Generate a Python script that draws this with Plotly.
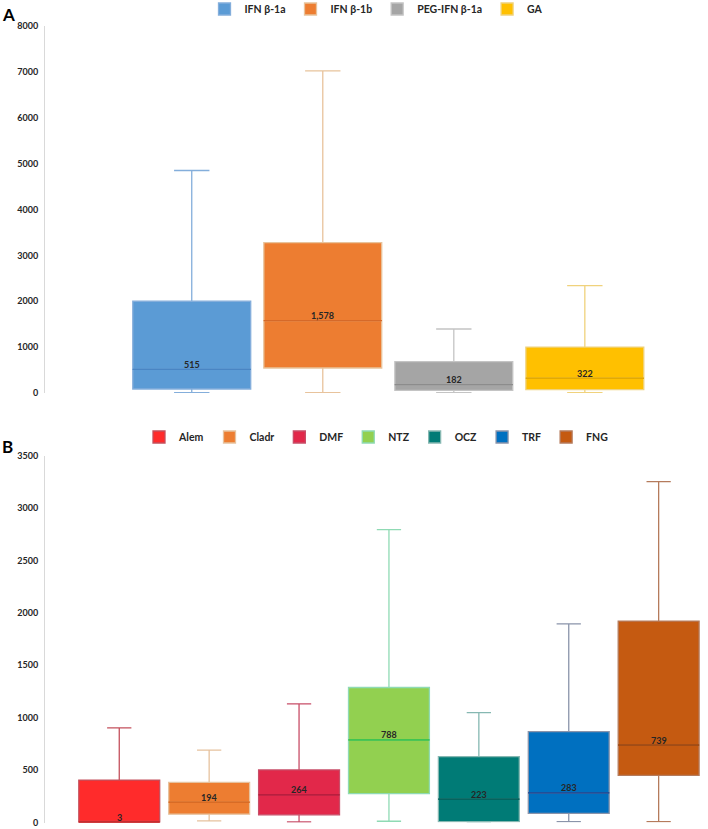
import plotly.graph_objects as go
from plotly.subplots import make_subplots

# --- Panel A : interférons / GA ---
a_names = ['IFN β-1a', 'IFN β-1b', 'PEG-IFN β-1a', 'GA']
a_low = [10, 10, 5, 5]
a_q1 = [87, 545, 59, 72]
a_median = [515, 1578, 182, 322]
a_q3 = [2000, 3280, 682, 1002]
a_high = [4850, 7020, 1395, 2340]

# --- Panel B : traitements de 2e ligne ---
b_names = ['Alem', 'Cladr', 'DMF', 'NTZ', 'OCZ', 'TRF', 'FNG']
b_low = [0, 15, 5, 12, 5, 8, 8]
b_q1 = [0, 79, 73, 275, 8, 88, 450]
b_median = [3, 194, 264, 788, 223, 283, 739]
b_q3 = [405, 382, 502, 1288, 628, 868, 1922]
b_high = [902, 690, 1132, 2795, 1048, 1895, 3253]

# couleurs : remplissage, moustaches, médiane
A_FILL = ['#5B9BD5', '#ED7D31', '#A5A5A5', '#FFC000']
A_WHISK = ['#84AEDB', '#E8C39C', '#C4C4C4', '#F0D27C']
A_MED = ['#4A86C4', '#D5692A', '#8C8C8C', '#E2A800']
B_FILL = ['#FF2B2B', '#ED7D31', '#E2284A', '#92D050', '#007B76', '#0070C0', '#C55A11']
B_WHISK = ['#C4505C', '#E6C29E', '#C84E68', '#8FDAB4', '#86B8B2', '#8A94AA', '#B57B5C']
B_MED = ['#C81E1E', '#D86A22', '#B81E3E', '#3CC24C', '#00605C', '#1F4E99', '#A04A12']

FONT = 'Lato'

fig = make_subplots(rows=2, cols=1, vertical_spacing=0.0)


def add_panel(row, names, low, q1, med, q3, high, fills, whisk, meds, legend):
    for i, n in enumerate(names):
        fig.add_trace(go.Box(
            x=[n], q1=[q1[i]], median=[med[i]], q3=[q3[i]],
            lowerfence=[low[i]], upperfence=[high[i]],
            name=n, width=0.9, whiskerwidth=0.3,
            fillcolor=fills[i], line=dict(color=whisk[i], width=1.3),
            legend=legend, hoverinfo='skip'
        ), row=row, col=1)
        # trait de médiane plus foncé
        fig.add_trace(go.Box(
            x=[n], q1=[med[i]], median=[med[i]], q3=[med[i]],
            lowerfence=[med[i]], upperfence=[med[i]],
            name=n, width=0.9, whiskerwidth=0,
            fillcolor='rgba(0,0,0,0)', line=dict(color=meds[i], width=1),
            showlegend=False, legend=legend, hoverinfo='skip'
        ), row=row, col=1)
        fig.add_annotation(
            x=n, y=med[i], text=f'{med[i]:,}', showarrow=False,
            xref=f'x{"" if row == 1 else row}', yref=f'y{"" if row == 1 else row}',
            yanchor='middle', yshift=5,
            font=dict(family=FONT, size=9, color='#262626', weight='bold')
        )


add_panel(1, a_names, a_low, a_q1, a_median, a_q3, a_high, A_FILL, A_WHISK, A_MED, 'legend')
add_panel(2, b_names, b_low, b_q1, b_median, b_q3, b_high, B_FILL, B_WHISK, B_MED, 'legend2')

x_dom = [45 / 708, 1.0]
fig.update_xaxes(type='category', showticklabels=False, showgrid=False,
                 zeroline=False, showline=False, domain=x_dom)
fig.update_xaxes(range=[-1.12, 3.94], row=1, col=1)
fig.update_xaxes(range=[-0.826, 6.549], row=2, col=1)

yfont = dict(family=FONT, size=9, color='#262626', weight='bold')
fig.update_yaxes(showgrid=False, zeroline=False, showline=True, linecolor='#D9D9D9',
                 linewidth=1, ticks='', tickfont=yfont, ticklabelstandoff=4, automargin=False)
fig.update_yaxes(range=[0, 8000], dtick=1000, domain=[(829 - 393) / 829, (829 - 26) / 829], row=1, col=1)
fig.update_yaxes(range=[0, 3500], dtick=500, domain=[(829 - 822.5) / 829, (829 - 455.7) / 829], row=2, col=1)

legfont = dict(family=FONT, size=10.5, color='#262626', weight='bold')
fig.update_layout(
    width=708, height=829,
    margin=dict(t=0, b=0, l=0, r=0, autoexpand=False),
    paper_bgcolor='white', plot_bgcolor='white',
    boxmode='overlay',
    legend=dict(orientation='h', x=(45 / 708 + 1) / 2, xanchor='center',
                y=(829 - 9) / 829, yanchor='middle', font=legfont,
                itemwidth=30, entrywidth=0, bgcolor='rgba(0,0,0,0)'),
    legend2=dict(orientation='h', x=(45 / 708 + 1) / 2, xanchor='center',
                 y=(829 - 437) / 829, yanchor='middle', font=legfont,
                 itemwidth=30, entrywidth=0, bgcolor='rgba(0,0,0,0)'),
)

# lettres des panneaux
fig.add_annotation(text='A', x=0, y=(829 - 15) / 829, xref='paper', yref='paper',
                   xanchor='left', yanchor='middle', showarrow=False,
                   font=dict(family=FONT, size=17, color='black', weight='bold'))
fig.add_annotation(text='B', x=0, y=(829 - 447) / 829, xref='paper', yref='paper',
                   xanchor='left', yanchor='middle', showarrow=False,
                   font=dict(family=FONT, size=17, color='black', weight='bold'))

# la page a une marge de 8px par défaut : on la supprime
fig.write_html('out.html', config={'displayModeBar': False},
               post_script="document.body.style.margin='0';")
